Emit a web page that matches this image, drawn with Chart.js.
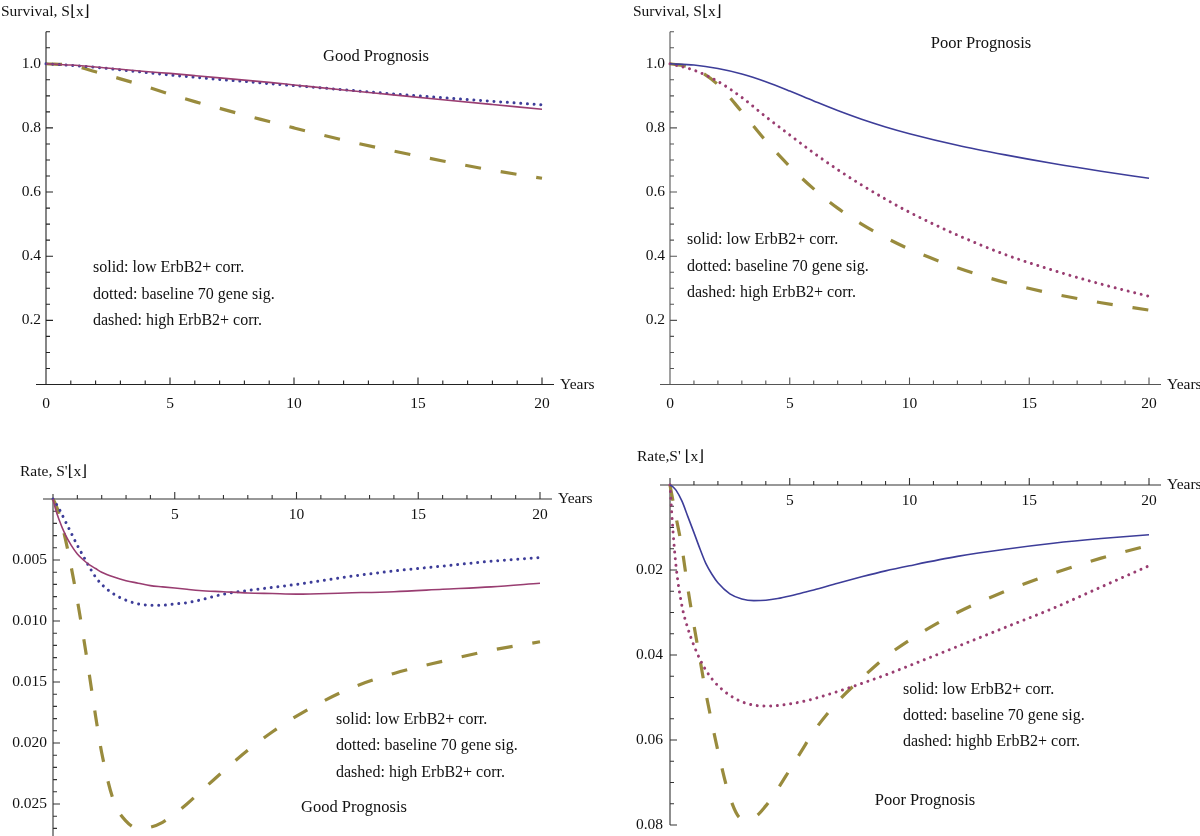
<!DOCTYPE html>
<html><head><meta charset="utf-8">
<script src="https://cdn.jsdelivr.net/npm/chart.js@4"></script>
<style>
html,body{margin:0;padding:0;background:#fff;}
#wrap{position:relative;width:1200px;height:836px;overflow:hidden;background:#fff;}
.pane{position:absolute;width:600px;height:418px;}
canvas{display:block;}
</style></head><body>
<div id="wrap">
<div class="pane" style="left:0;top:0"><canvas id="c1" width="600" height="418"></canvas></div>
<div class="pane" style="left:600px;top:0"><canvas id="c2" width="600" height="418"></canvas></div>
<div class="pane" style="left:0;top:418px"><canvas id="c3" width="600" height="418"></canvas></div>
<div class="pane" style="left:600px;top:418px"><canvas id="c4" width="600" height="418"></canvas></div>
</div>
<script>
// ---------- data ----------
const survYears = [0,1,2,3,4,5,6,7,8,9,10,12,14,16,18,20];
const rateYears = [0,0.1,0.25,0.5,0.75,1,1.25,1.5,1.75,2,2.5,3,3.5,4,4.5,5,5.5,6,7,8,9,10,12,14,16,18,20];

// Good prognosis survival
const goodSurvSolid  = [1,0.996,0.99,0.983,0.976,0.97,0.963,0.956,0.949,0.942,0.934,0.918,0.903,0.888,0.873,0.858];
const goodSurvDotted = [1,0.995,0.989,0.981,0.973,0.965,0.958,0.951,0.945,0.938,0.932,0.919,0.906,0.894,0.883,0.872];
const goodSurvDashed = [1,0.995,0.975,0.953,0.93,0.905,0.882,0.861,0.84,0.82,0.80,0.762,0.728,0.697,0.668,0.643];
// Poor prognosis survival
const poorSurvSolid  = [1,0.996,0.985,0.968,0.944,0.915,0.884,0.854,0.827,0.803,0.782,0.746,0.716,0.689,0.665,0.643];
const poorSurvDotted = [1,0.98,0.945,0.895,0.835,0.778,0.722,0.67,0.622,0.578,0.537,0.466,0.405,0.356,0.313,0.275];
const poorSurvDashed = [1,0.985,0.935,0.85,0.76,0.68,0.61,0.55,0.5,0.458,0.422,0.364,0.318,0.283,0.255,0.232];
// Good prognosis rate (magnitude)
const goodRateSolid  = [0,0.0008,0.0017,0.0029,0.0038,0.0045,0.005,0.0054,0.0057,0.006,0.0064,0.0067,0.0069,0.0071,0.0072,0.0073,0.0074,0.0075,0.0076,0.0077,0.00775,0.0078,0.0077,0.0076,0.0074,0.0072,0.0069];
const goodRateDotted = [0,0.0003,0.0008,0.0018,0.0028,0.0038,0.0047,0.0056,0.0064,0.007,0.0078,0.0083,0.0086,0.0087,0.0087,0.0086,0.0085,0.0083,0.0078,0.0075,0.00725,0.007,0.0064,0.0059,0.0055,0.0051,0.0048];
const goodRateDashed = [0,0.0004,0.0012,0.0032,0.0056,0.0083,0.0113,0.0145,0.0178,0.0208,0.0248,0.0264,0.027,0.0269,0.0265,0.0258,0.025,0.0241,0.0223,0.0206,0.0191,0.0178,0.0157,0.0143,0.0133,0.0124,0.0117];
// Poor prognosis rate (magnitude)
const poorRateSolid  = [0,0.0003,0.0012,0.0038,0.0075,0.0112,0.015,0.0185,0.021,0.023,0.0256,0.0268,0.0272,0.0271,0.0267,0.0261,0.0254,0.0247,0.0231,0.0216,0.0202,0.019,0.0168,0.0151,0.0137,0.0126,0.0117];
const poorRateDotted = [0,0.009,0.019,0.0285,0.0338,0.0378,0.041,0.0436,0.0456,0.0472,0.0495,0.051,0.0518,0.052,0.0519,0.0515,0.051,0.0503,0.0486,0.0467,0.0447,0.0425,0.038,0.0335,0.029,0.024,0.019];
const poorRateDashed = [0,0.003,0.0075,0.0148,0.0245,0.033,0.041,0.049,0.056,0.0625,0.0735,0.0785,0.0782,0.0755,0.0715,0.067,0.0625,0.058,0.051,0.0455,0.0405,0.0365,0.03,0.025,0.0208,0.0172,0.0142];

// tick labels
const survXTicks = ['0','5','10','15','20'];
const rateXTicks = ['5','10','15','20'];
const survYTicks = ['0.2','0.4','0.6','0.8','1.0'];
const goodRateYTicks = ['0.005','0.010','0.015','0.020','0.025'];
const poorRateYTicks = ['0.02','0.04','0.06','0.08'];

// text
const legendGood = ['solid: low ErbB2+ corr.','dotted: baseline 70 gene sig.','dashed: high ErbB2+ corr.'];
const legendPoorRate = ['solid: low ErbB2+ corr.','dotted: baseline 70 gene sig.','dashed: highb ErbB2+ corr.'];

// ---------- styles ----------
const BLUE = 'rgb(61,61,153)', PURPLE = 'rgb(153,61,113)', OLIVE = 'rgb(153,139,61)';
const FONT = '15.5px "Liberation Serif", "Times New Roman", serif';
const NOTEFONT = '16px "Liberation Serif", "Times New Roman", serif';
const HEADFONT = '16.5px "Liberation Serif", "Times New Roman", serif';
const TITLEFONT = '15.5px "Liberation Serif", "DejaVu Serif", serif';

function pts(xs, ys){ return xs.map((x,i)=>({x:x, y:ys[i]})); }
function solid(data, color){ return {data, borderColor:color, borderWidth:1.6, pointRadius:0, fill:false, cubicInterpolationMode:'monotone'}; }
function dotted(data, color){ return {data, borderColor:color, borderWidth:3, borderDash:[0.01,6.7], borderCapStyle:'round', pointRadius:0, fill:false, cubicInterpolationMode:'monotone'}; }
function dashed(data, color){ return {data, borderColor:color, borderWidth:3.2, borderDash:[16,20], borderCapStyle:'butt', pointRadius:0, fill:false, cubicInterpolationMode:'monotone'}; }

const mmaAxes = {
  id:'mmaAxes',
  beforeDatasetsDraw(chart, args, o){
    const ctx = chart.ctx, xs = chart.scales.x, ys = chart.scales.y;
    const ax = xs.getPixelForValue(0), ay = ys.getPixelForValue(0);
    ctx.save();
    ctx.strokeStyle = o.color; ctx.lineWidth = 1.1;
    ctx.beginPath(); ctx.moveTo(xs.left - o.xExtL, ay); ctx.lineTo(xs.right + o.xExtR, ay); ctx.stroke();
    ctx.beginPath(); ctx.moveTo(ax, o.yFrom); ctx.lineTo(ax, o.yTo); ctx.stroke();
    ctx.beginPath();
    for (let k = 1; k * o.xMinor <= xs.max + 1e-9; k++) {
      const v = k * o.xMinor, p = xs.getPixelForValue(v);
      const len = (Math.abs(v / o.xMajor - Math.round(v / o.xMajor)) < 1e-6) ? 7 : 4;
      ctx.moveTo(p, ay); ctx.lineTo(p, ay - len);
    }
    const ymax = Math.max(ys.min, ys.max);
    for (let k = 1; k * o.yMinor <= ymax + 1e-9; k++) {
      const v = k * o.yMinor, p = ys.getPixelForValue(v);
      const len = (Math.abs(v / o.yMajor - Math.round(v / o.yMajor)) < 1e-6) ? 7 : 4;
      ctx.moveTo(ax, p); ctx.lineTo(ax + len, p);
    }
    ctx.stroke();
    ctx.fillStyle = '#111'; ctx.font = FONT;
    ctx.textAlign = 'center'; ctx.textBaseline = 'middle';
    o.xLabels.forEach(t => { ctx.fillText(t, xs.getPixelForValue(parseFloat(t)), ay + o.xLabelOff); });
    ctx.textAlign = 'right';
    o.yLabels.forEach(t => { ctx.fillText(t, ax - o.yLabelGap, ys.getPixelForValue(parseFloat(t))); });
    ctx.textAlign = 'left';
    ctx.fillText('Years', xs.right + o.xExtR + 6, ay);
    ctx.font = TITLEFONT;
    ctx.fillText(o.title.text, o.title.x, o.title.y);
    ctx.restore();
  },
  afterDraw(chart, args, o){
    const ctx = chart.ctx;
    ctx.save();
    ctx.fillStyle = '#111'; ctx.textBaseline = 'middle';
    (o.notes || []).forEach(n => {
      ctx.font = n.head ? HEADFONT : NOTEFONT;
      ctx.textAlign = n.head ? 'center' : 'left';
      ctx.fillText(n.text, n.x, n.y);
    });
    ctx.restore();
  }
};

function makeChart(id, datasets, pad, yOpt, axOpt){
  return new Chart(document.getElementById(id), {
    type:'line',
    data:{datasets},
    options:{
      responsive:false, animation:false, devicePixelRatio:1,
      layout:{padding:pad},
      clip:false,
      plugins:{legend:{display:false}, tooltip:{enabled:false}, mmaAxes:axOpt},
      scales:{
        x:{type:'linear', min:0, max:20, display:false},
        y:Object.assign({type:'linear', display:false}, yOpt)
      }
    },
    plugins:[mmaAxes]
  });
}

// Top-left: Good prognosis survival
makeChart('c1', [
  solid(pts(survYears, goodSurvSolid), PURPLE),
  dotted(pts(survYears, goodSurvDotted), BLUE),
  dashed(pts(survYears, goodSurvDashed), OLIVE)
], {left:46, right:58, top:31.7, bottom:33.5}, {min:0, max:1.1}, {
  color:'#222', xExtL:10, xExtR:12, yFrom:384.5, yTo:31.7,
  xMinor:1, xMajor:5, yMinor:0.05, yMajor:0.2,
  xLabels:survXTicks, yLabels:survYTicks, xLabelOff:19, yLabelGap:5,
  title:{text:'Survival, S\u230Ax\u230B', x:1, y:12},
  notes:[
    {text:'Good Prognosis', x:376, y:57, head:true},
    {text:legendGood[0], x:93, y:268},
    {text:legendGood[1], x:93, y:295},
    {text:legendGood[2], x:93, y:321}
  ]
});

// Top-right: Poor prognosis survival
makeChart('c2', [
  solid(pts(survYears, poorSurvSolid), BLUE),
  dotted(pts(survYears, poorSurvDotted), PURPLE),
  dashed(pts(survYears, poorSurvDashed), OLIVE)
], {left:70, right:51, top:31.7, bottom:33.5}, {min:0, max:1.1}, {
  color:'#555', xExtL:10, xExtR:12, yFrom:384.5, yTo:31.7,
  xMinor:1, xMajor:5, yMinor:0.05, yMajor:0.2,
  xLabels:survXTicks, yLabels:survYTicks, xLabelOff:19, yLabelGap:5,
  title:{text:'Survival, S\u230Ax\u230B', x:33, y:12},
  notes:[
    {text:'Poor Prognosis', x:381, y:44, head:true},
    {text:legendGood[0], x:87, y:240},
    {text:legendGood[1], x:87, y:267},
    {text:legendGood[2], x:87, y:293}
  ]
});

// Bottom-left: Good prognosis rate
makeChart('c3', [
  solid(pts(rateYears, goodRateSolid), PURPLE),
  dotted(pts(rateYears, goodRateDotted), BLUE),
  dashed(pts(rateYears, goodRateDashed), OLIVE)
], {left:53, right:60, top:81, bottom:0.3}, {min:0, max:0.0276, reverse:true}, {
  color:'#333', xExtL:10, xExtR:12, yFrom:76, yTo:418,
  xMinor:1, xMajor:5, yMinor:0.001, yMajor:0.005,
  xLabels:rateXTicks, yLabels:goodRateYTicks, xLabelOff:16, yLabelGap:6,
  title:{text:"Rate, S'\u230Ax\u230B", x:20, y:54},
  notes:[
    {text:legendGood[0], x:336, y:302},
    {text:legendGood[1], x:336, y:328},
    {text:legendGood[2], x:336, y:355},
    {text:'Good Prognosis', x:354, y:390, head:true}
  ]
});

// Bottom-right: Poor prognosis rate
makeChart('c4', [
  solid(pts(rateYears, poorRateSolid), BLUE),
  dotted(pts(rateYears, poorRateDotted), PURPLE),
  dashed(pts(rateYears, poorRateDashed), OLIVE)
], {left:70, right:51, top:67, bottom:11}, {min:0, max:0.08, reverse:true}, {
  color:'#333', xExtL:10, xExtR:12, yFrom:60, yTo:407,
  xMinor:1, xMajor:5, yMinor:0.005, yMajor:0.02,
  xLabels:rateXTicks, yLabels:poorRateYTicks, xLabelOff:16, yLabelGap:7,
  title:{text:"Rate,S' \u230Ax\u230B", x:37, y:39},
  notes:[
    {text:legendPoorRate[0], x:303, y:272},
    {text:legendPoorRate[1], x:303, y:298},
    {text:legendPoorRate[2], x:303, y:324},
    {text:'Poor Prognosis', x:325, y:383, head:true}
  ]
});
</script>
</body></html>
